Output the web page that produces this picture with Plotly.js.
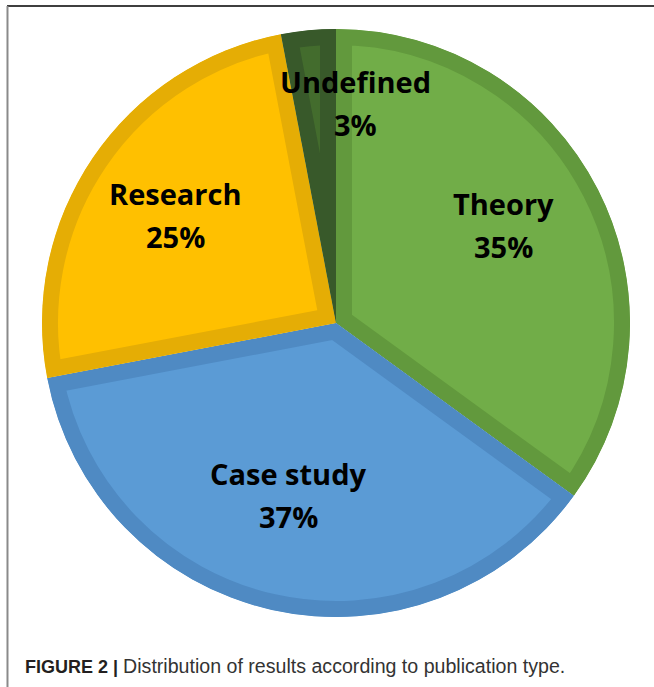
<!DOCTYPE html>
<html>
<head>
<meta charset="utf-8">
<script src="https://cdn.plot.ly/plotly-3.0.1.min.js"></script>
<style>
  html, body { margin: 0; padding: 0; background: #ffffff; }
  #chart { width: 654px; height: 687px; }
</style>
</head>
<body>
<div id="chart"></div>
<script>
// Publication types and their share of results (%)
var categories = ['Theory', 'Case study', 'Research', 'Undefined'];
var shares = [35, 37, 25, 3];

// Slice fills and the darker inner rim of each slice
var fillColors = ['#71ad48', '#5b9bd5', '#ffc000', '#436c2d'];
var rimColors = ['#62993d', '#4f8ac3', '#e5ad05', '#38592a'];

// Label placement: fraction of the radius along each slice's mid-angle, plus a pixel nudge
var labelRadius = [0.658, 0.605, 0.661, 0.745];
var labelNudgeX = [-5, -9, 0, 40];
var labelNudgeY = [-10, -2, 1, -2];

var RIM = 16;          // visible rim thickness in px
var LINE_GAP = 21.5;   // half the distance between the two label lines

var total = shares.reduce(function (a, b) { return a + b; }, 0);

var trace = {
  type: 'pie',
  labels: categories,
  values: shares,
  sort: false,
  direction: 'clockwise',
  rotation: 0,
  textinfo: 'none',
  hoverinfo: 'none',
  showlegend: false,
  marker: {
    colors: fillColors,
    line: { color: rimColors, width: RIM * 2 }
  }
};

// Labels sit along each slice's mid-angle, measured clockwise from 12 o'clock
var annotations = [];
var cum = 0;
shares.forEach(function (v, i) {
  var mid = (cum + v / 2) / total * 2 * Math.PI;
  cum += v;
  var f = labelRadius[i];
  var x = 0.5 + f * Math.sin(mid) / 2;
  var y = 0.5 + f * Math.cos(mid) / 2;
  var pct = Math.round(v / total * 100) + '%';
  var base = {
    xref: 'paper', yref: 'paper', x: x, y: y,
    xanchor: 'center', yanchor: 'middle', showarrow: false,
    xshift: labelNudgeX[i],
    font: { family: 'Open Sans, sans-serif', size: 29, color: '#000000', weight: 700 }
  };
  annotations.push(Object.assign({}, base, { text: '<b>' + categories[i] + '</b>', yshift: -labelNudgeY[i] + LINE_GAP }));
  annotations.push(Object.assign({}, base, { text: '<b>' + pct + '</b>', yshift: -labelNudgeY[i] - LINE_GAP }));
});

// Figure caption
annotations.push({
  xref: 'paper', yref: 'paper', x: -0.033, y: -0.0825,
  xanchor: 'left', yanchor: 'middle', showarrow: false,
  text: '<b>FIGURE 2 |</b> <span style="color:#333333;font-size:19.6px">Distribution of results according to publication type.</span>',
  font: { family: 'Liberation Sans, Arial, sans-serif', size: 18, color: '#231f20' }
});

var layout = {
  width: 654,
  height: 687,
  margin: { l: 42, r: 24, t: 29, b: 70, pad: 0 },
  paper_bgcolor: '#ffffff',
  plot_bgcolor: '#ffffff',
  annotations: annotations,
  shapes: [
    // frame: top rule and left rule
    { type: 'line', xref: 'paper', yref: 'paper', x0: -0.0595, x1: 1.05, y0: 1.0391, y1: 1.0391,
      line: { color: '#3f3f3f', width: 2 } },
    { type: 'line', xref: 'paper', yref: 'paper', x0: -0.0587, x1: -0.0587, y0: 1.0391, y1: -0.13,
      line: { color: '#8a8a8a', width: 2 } }
  ]
};

var gd = document.getElementById('chart');
Plotly.newPlot(gd, [trace], layout, { staticPlot: true, displayModeBar: false }).then(function () {
  // Keep each slice's stroke inside its own outline so it reads as an inner rim
  var ns = 'http://www.w3.org/2000/svg';
  var svg = gd.querySelector('svg.main-svg');
  var defs = svg.querySelector('defs') || svg.insertBefore(document.createElementNS(ns, 'defs'), svg.firstChild);
  gd.querySelectorAll('g.slice path.surface').forEach(function (p, i) {
    var cp = document.createElementNS(ns, 'clipPath');
    cp.setAttribute('id', 'slice-rim-' + i);
    var q = document.createElementNS(ns, 'path');
    q.setAttribute('d', p.getAttribute('d'));
    if (p.getAttribute('transform')) q.setAttribute('transform', p.getAttribute('transform'));
    cp.appendChild(q);
    defs.appendChild(cp);
    p.setAttribute('clip-path', 'url(#slice-rim-' + i + ')');
    p.style.strokeLinejoin = 'miter';
  });
});
</script>
</body>
</html>
